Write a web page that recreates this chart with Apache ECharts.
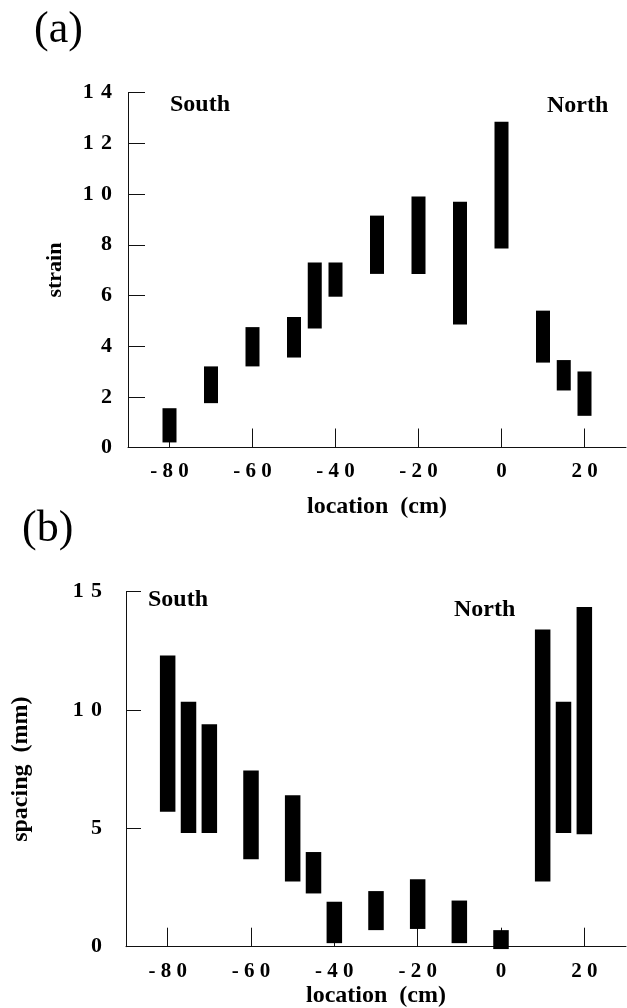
<!DOCTYPE html>
<html>
<head>
<meta charset="utf-8">
<script src="https://cdn.jsdelivr.net/npm/echarts@6/dist/echarts.min.js"></script>
<style>
  html, body { margin: 0; padding: 0; background: #fff; }
  #chart { width: 627px; height: 1008px; }
</style>
</head>
<body>
<div id="chart"></div>
<script>
// (a) strain ranges along the section
const locationsA = [-80, -70, -60, -50, -45, -40, -30, -20, -10, 0, 10, 15, 20]
const strainLow  = [0.2, 1.75, 3.2, 3.55, 4.7, 5.95, 6.85, 6.85, 4.85, 7.85, 3.35, 2.25, 1.25]
const strainHigh = [1.55, 3.2, 4.75, 5.15, 7.3, 7.3, 9.15, 9.9, 9.7, 12.85, 5.4, 3.45, 3.0]

// (b) spacing ranges (mm)
const locationsB  = [-80, -75, -70, -60, -50, -45, -40, -30, -20, -10, 0, 10, 15, 20]
const spacingLow  = [5.7, 4.8, 4.8, 3.7, 2.75, 2.25, 0.15, 0.7, 0.75, 0.15, -0.1, 2.75, 4.8, 4.75]
const spacingHigh = [12.3, 10.35, 9.4, 7.45, 6.4, 4.0, 1.9, 2.35, 2.85, 1.95, 0.7, 13.4, 10.35, 14.35]

const xTicks = [-80, -60, -40, -20, 0, 20]

const FONT = 'Liberation Serif'
const chart = echarts.init(document.getElementById('chart'))

// spaced digits like the original typesetting
const spaced = sep => v => String(v).split('').join(sep)

function rangeBox(width) {
  return function (params, api) {
    const x = api.value(0)
    const lo = api.coord([x, api.value(1)])
    const hi = api.coord([x, api.value(2)])
    return {
      type: 'rect',
      shape: { x: lo[0] - width / 2, y: hi[1], width: width, height: lo[1] - hi[1] },
      style: { fill: '#000' }
    }
  }
}

const axisLine = { show: true, onZero: false, lineStyle: { color: '#111', width: 1 } }
const nameStyle = { fontFamily: FONT, fontWeight: 'bold', fontSize: 22, color: '#000' }
const xNameStyle = { fontFamily: FONT, fontWeight: 'bold', fontSize: 24, color: '#000' }
const labelStyle = { fontFamily: FONT, fontWeight: 'bold', fontSize: 21, color: '#000' }
const yLabelStyle = { fontFamily: FONT, fontWeight: 'bold', fontSize: 22, color: '#000' }
const cornerStyle = { fontFamily: FONT, fontWeight: 'bold', fontSize: 24, fill: '#000' }

function xAxisFor(gridIndex, gap) {
  return {
    type: 'value', gridIndex: gridIndex, min: -90, max: 30,
    name: 'location  (cm)', nameLocation: 'middle', nameGap: gap,
    nameTextStyle: xNameStyle,
    axisLine: axisLine,
    axisTick: { show: true, inside: true, length: 19, customValues: xTicks, lineStyle: { color: '#111' } },
    axisLabel: Object.assign({ margin: 14, customValues: xTicks, formatter: spaced(' ') }, labelStyle),
    splitLine: { show: false }
  }
}

const option = {
  animation: false,
  backgroundColor: '#fff',
  grid: [
    { left: 128, right: 1, top: 92.7, bottom: 560.5, outerBoundsMode: 'none' },
    { left: 126, right: 1, top: 591.7, bottom: 61.3, outerBoundsMode: 'none' }
  ],
  xAxis: [xAxisFor(0, 47), xAxisFor(1, 37)],
  yAxis: [
    {
      type: 'value', gridIndex: 0, min: 0, max: 14, interval: 2,
      name: 'strain', nameLocation: 'middle', nameGap: 62, nameTextStyle: nameStyle,
      axisLine: axisLine,
      axisTick: { show: true, inside: true, length: 17, lineStyle: { color: '#111' } },
      axisLabel: Object.assign({ margin: 16, formatter: spaced('\u2004') }, yLabelStyle),
      splitLine: { show: false }
    },
    {
      type: 'value', gridIndex: 1, min: 0, max: 15, interval: 5,
      name: 'spacing  (mm)', nameLocation: 'middle', nameGap: 93,
      nameTextStyle: Object.assign({}, nameStyle, { fontSize: 24 }),
      axisLine: axisLine,
      axisTick: { show: true, inside: true, length: 15, lineStyle: { color: '#111' } },
      axisLabel: Object.assign({ margin: 24, formatter: spaced('\u2004') }, yLabelStyle),
      splitLine: { show: false }
    }
  ],
  graphic: [
    { type: 'text', left: 34, top: 8, style: { text: '(a)', fontFamily: FONT, fontSize: 44, fill: '#000' } },
    { type: 'text', left: 22, top: 507, style: { text: '(b)', fontFamily: FONT, fontSize: 44, fill: '#000' } },
    { type: 'text', left: 170, top: 93, style: Object.assign({ text: 'South' }, cornerStyle) },
    { type: 'text', left: 547, top: 94, style: Object.assign({ text: 'North' }, cornerStyle) },
    { type: 'text', left: 148, top: 588, style: Object.assign({ text: 'South' }, cornerStyle) },
    { type: 'text', left: 454, top: 598, style: Object.assign({ text: 'North' }, cornerStyle) }
  ],
  series: [
    {
      type: 'custom', xAxisIndex: 0, yAxisIndex: 0,
      renderItem: rangeBox(14),
      encode: { x: 0, y: [1, 2] },
      data: locationsA.map((x, i) => [x, strainLow[i], strainHigh[i]])
    },
    {
      type: 'custom', xAxisIndex: 1, yAxisIndex: 1,
      renderItem: rangeBox(15.5),
      encode: { x: 0, y: [1, 2] },
      data: locationsB.map((x, i) => [x, spacingLow[i], spacingHigh[i]])
    }
  ]
}

chart.setOption(option)
</script>
</body>
</html>
